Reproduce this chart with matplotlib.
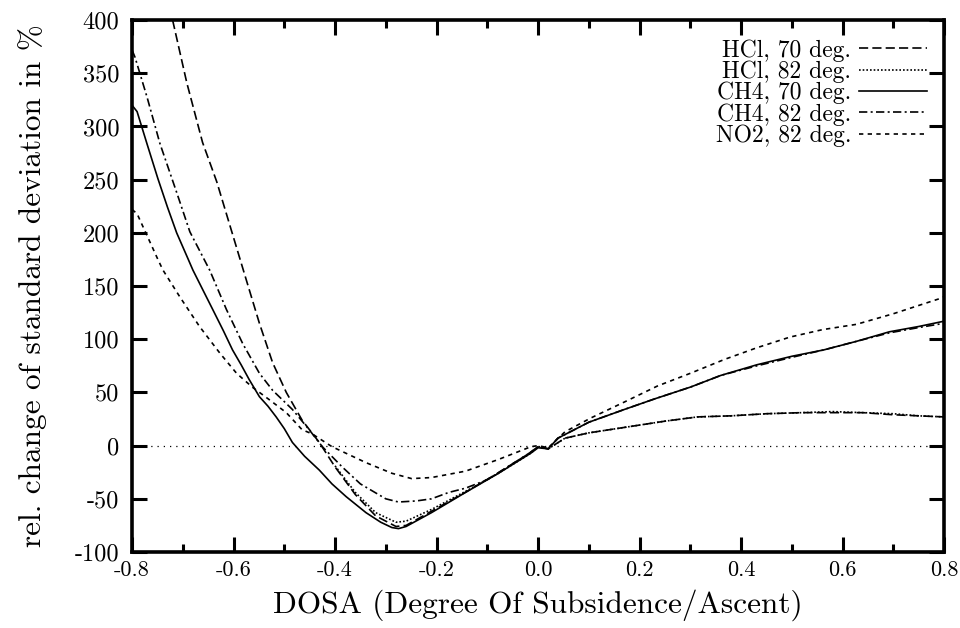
import matplotlib
matplotlib.use("Agg")
import matplotlib.pyplot as plt
from matplotlib.ticker import MultipleLocator

plt.rcParams['font.family'] = ['cmr10', 'DejaVu Serif']
plt.rcParams['axes.unicode_minus'] = False
plt.rcParams['mathtext.fontset'] = 'cm'

# ---------------- data ----------------
hcl70_x = [-0.720, -0.692, -0.661, -0.633, -0.604, -0.575, -0.549, -0.523, -0.496, -0.465,
           -0.431, -0.40, -0.36, -0.32, -0.28, -0.26, -0.20, -0.14, -0.08, -0.02, 0.0,
           0.02, 0.053, 0.10, 0.182, 0.25, 0.314, 0.38, 0.45, 0.52, 0.58, 0.64, 0.70, 0.75, 0.80]
hcl70_y = [400, 341, 285, 248, 202, 156, 115, 78, 50, 24,
           3, -20, -46, -66, -76, -75, -59, -43, -26, -8, -1,
           -3, 7, 12, 18, 23, 27, 28, 30, 31, 31, 31, 29, 28, 27]

hcl82_x = [-0.40, -0.36, -0.32, -0.28, -0.26, -0.21, -0.143, -0.078, -0.014, 0.0,
           0.02, 0.053, 0.10, 0.182, 0.25, 0.314, 0.38, 0.45, 0.52, 0.58, 0.64, 0.70, 0.75, 0.80]
hcl82_y = [-19, -44, -63, -72, -71, -60, -43, -26, -7, -1,
           -3, 7, 12, 18, 23, 27, 28, 30, 31, 32, 31, 30, 28, 27]

ch4_70_x = [-0.80, -0.79, -0.77, -0.749, -0.73, -0.712, -0.69, -0.68, -0.66, -0.641, -0.62,
            -0.602, -0.585, -0.569, -0.549, -0.532, -0.516, -0.50, -0.484, -0.46, -0.431, -0.406,
            -0.378, -0.339, -0.31, -0.288, -0.275, -0.26, -0.21, -0.143, -0.078, -0.014, 0.0,
            0.02, 0.039, 0.10, 0.17, 0.23, 0.30, 0.36, 0.431, 0.50, 0.563, 0.627, 0.692, 0.75, 0.80]
ch4_70_y = [320, 314, 283, 251, 224, 200, 176, 165, 146, 128, 108,
            90, 76, 62, 46, 37, 27, 16, 3, -10, -23, -36,
            -48, -63, -72, -77, -78, -76, -63, -44, -26, -7, -2,
            -3, 7, 22, 34, 44, 55, 66, 76, 84, 90, 98, 107, 112, 117]

ch4_82_x = [-0.80, -0.794, -0.77, -0.745, -0.712, -0.686, -0.647, -0.614, -0.582, -0.549,
            -0.523, -0.484, -0.451, -0.425, -0.386, -0.35, -0.30, -0.275, -0.24, -0.21,
            -0.176, -0.143, -0.10, -0.06, -0.014, 0.0, 0.02, 0.039, 0.10, 0.17, 0.23, 0.30,
            0.36, 0.431, 0.50, 0.563, 0.627, 0.692, 0.75, 0.80]
ch4_82_y = [372, 365, 327, 284, 238, 201, 165, 128, 96, 68,
            52, 34, 15, -1, -20, -36, -50, -53, -52, -50,
            -44, -40, -32, -20, -6, -1, -3, 7, 22, 34, 44, 55,
            66, 75, 83, 90, 98, 106, 111, 115]

no2_x = [-0.80, -0.79, -0.749, -0.739, -0.706, -0.667, -0.627, -0.594, -0.563, -0.529,
         -0.496, -0.465, -0.445, -0.406, -0.339, -0.288, -0.249, -0.21, -0.143, -0.078,
         -0.014, 0.0, 0.02, 0.053, 0.104, 0.17, 0.235, 0.30, 0.367, 0.431, 0.496, 0.56,
         0.627, 0.70, 0.79, 0.80]
no2_y = [222, 218, 175, 165, 140, 112, 87, 68, 55, 43,
         31, 15, 11, -1, -16, -26, -31, -30, -24, -13,
         -1, 0, -2, 13, 26, 41, 56, 68, 81, 92, 102, 109,
         114, 124, 138, 140]

zero_x = [-0.8, 0.8]
zero_y = [0, 0]

x_ticks = [-0.8, -0.6, -0.4, -0.2, 0.0, 0.2, 0.4, 0.6, 0.8]
x_tick_labels = ["-0.8", "-0.6", "-0.4", "-0.2", "0.0", "0.2", "0.4", "0.6", "0.8"]
y_ticks = [-100, -50, 0, 50, 100, 150, 200, 250, 300, 350, 400]
y_tick_labels = ["-100", "-50", "0", "50", "100", "150", "200", "250", "300", "350", "400"]

labels = ["HCl, 70 deg.", "HCl, 82 deg.", "CH4, 70 deg.", "CH4, 82 deg.", "NO2, 82 deg."]

# ---------------- plot ----------------
fig = plt.figure(figsize=(9.6, 6.28), dpi=100)
ax = fig.add_axes([0.1375, 0.121, 0.846, 0.847])

lw = 1.2
ax.plot(zero_x, zero_y, color='black', lw=0.9, dashes=(1.0, 4.0), zorder=1)
l1, = ax.plot(hcl70_x, hcl70_y, color='black', lw=lw, dashes=(5.5, 2.5))
l2, = ax.plot(hcl82_x, hcl82_y, color='black', lw=lw, dashes=(1.0, 1.2))
l3, = ax.plot(ch4_70_x, ch4_70_y, color='black', lw=lw)
l4, = ax.plot(ch4_82_x, ch4_82_y, color='black', lw=lw, dashes=(5.0, 2.0, 1.2, 2.0))
l5, = ax.plot(no2_x, no2_y, color='black', lw=lw, dashes=(2.6, 2.6))

ax.set_xlim(-0.8, 0.8)
ax.set_ylim(-100, 400)
ax.set_xticks(x_ticks)
ax.set_xticklabels(x_tick_labels)
ax.set_yticks(y_ticks)
ax.set_yticklabels(y_tick_labels)
ax.xaxis.set_minor_locator(MultipleLocator(0.1))

ax.tick_params(which='both', direction='in', top=True, right=True, width=2.2)
ax.tick_params(which='major', length=11)
ax.tick_params(which='minor', length=6)
ax.tick_params(axis='x', labelsize=16, pad=6)
ax.tick_params(axis='y', labelsize=17.5, pad=9)
for s in ax.spines.values():
    s.set_linewidth(2.6)

ax.set_xlabel("DOSA (Degree Of Subsidence/Ascent)", fontsize=22.5, labelpad=7)
ax.set_ylabel("rel. change of standard deviation in %", fontsize=22.5, labelpad=20)

leg = ax.legend([l1, l2, l3, l4, l5], labels, loc='upper right',
                bbox_to_anchor=(0.99, 0.982), frameon=False, markerfirst=False,
                fontsize=17, handlelength=2.85, labelspacing=-0.05,
                handletextpad=0.35, borderaxespad=0.0)

fig.savefig("out.png", dpi=100)
